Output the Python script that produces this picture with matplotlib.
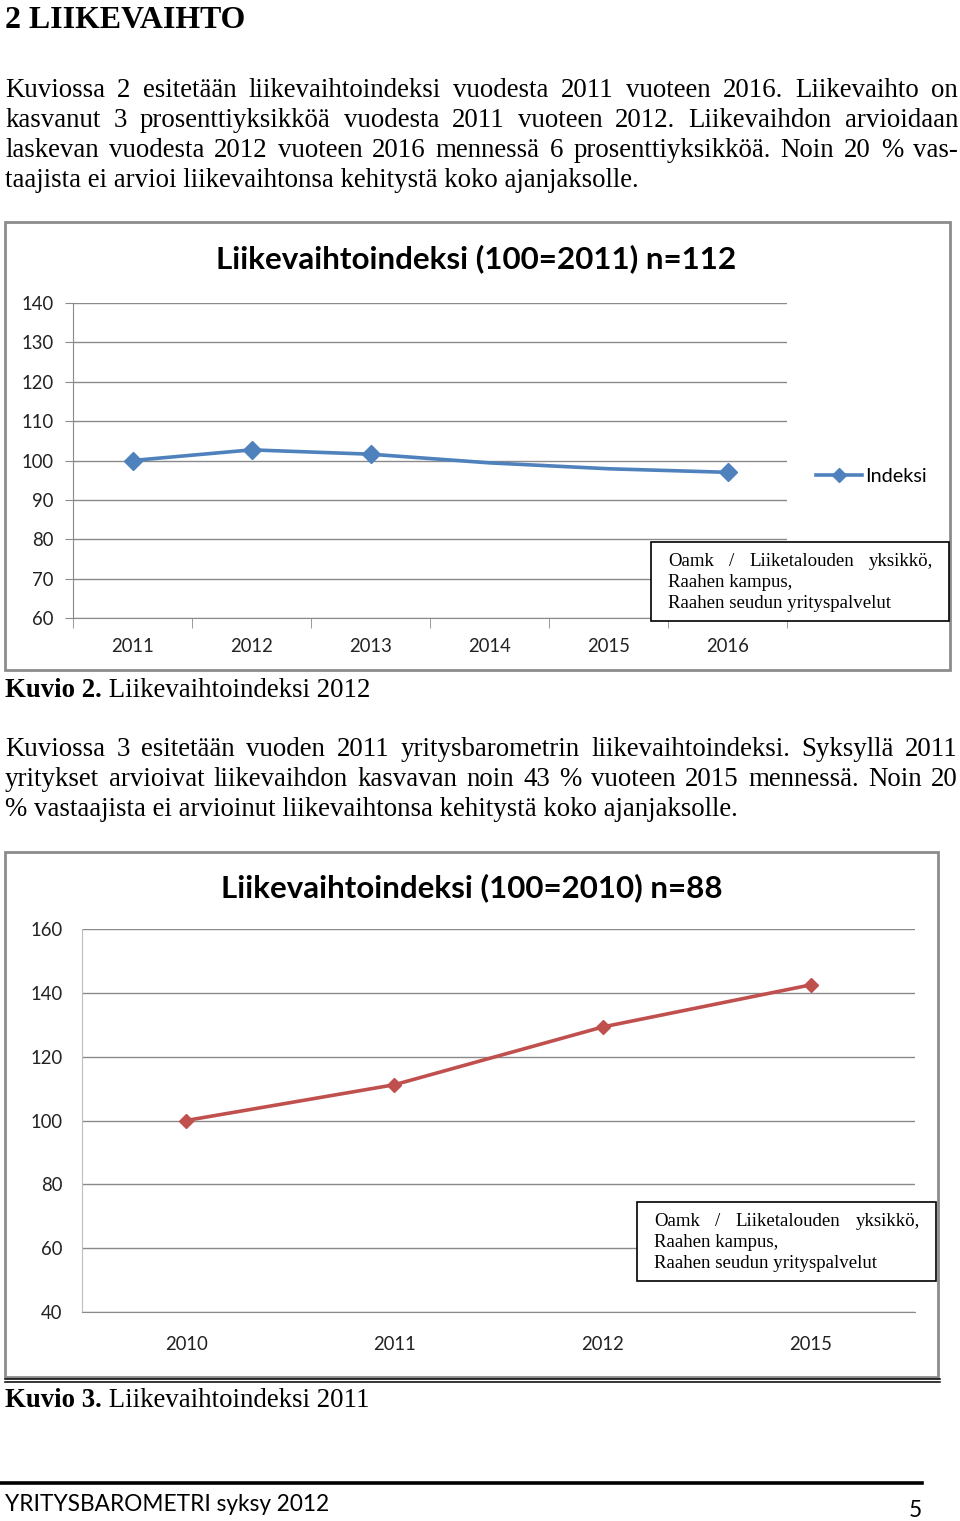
import matplotlib
matplotlib.use("Agg")
import matplotlib.pyplot as plt
from matplotlib.lines import Line2D
from matplotlib.patches import Rectangle

# page size in pixels
W, H = 960, 1521

# chart 1 data
years1 = ['2011', '2012', '2013', '2014', '2015', '2016']
index1 = [100, 102.7, 101.6, 99.4, 97.9, 97.0]
marked1 = [0, 1, 2, 5]
yticks1 = [60, 70, 80, 90, 100, 110, 120, 130, 140]

# chart 2 data
years2 = ['2010', '2011', '2012', '2015']
index2 = [100, 111.2, 129.3, 142.5]
yticks2 = [40, 60, 80, 100, 120, 140, 160]

title1 = 'Liikevaihtoindeksi (100=2011) n=112'
title2 = 'Liikevaihtoindeksi (100=2010) n=88'
legend1 = 'Indeksi'
source_lines = ['Oamk / Liiketalouden yksikkö,', 'Raahen kampus,',
                'Raahen seudun yrityspalvelut']

heading = '2 LIIKEVAIHTO'
para1 = ['Kuviossa 2 esitetään liikevaihtoindeksi vuodesta 2011 vuoteen 2016. Liikevaihto on',
         'kasvanut 3 prosenttiyksikköä vuodesta 2011 vuoteen 2012. Liikevaihdon arvioidaan',
         'laskevan vuodesta 2012 vuoteen 2016 mennessä 6 prosenttiyksikköä. Noin 20 % vas-',
         'taajista ei arvioi liikevaihtonsa kehitystä koko ajanjaksolle.']
para2 = ['Kuviossa 3 esitetään vuoden 2011 yritysbarometrin liikevaihtoindeksi. Syksyllä 2011',
         'yritykset arvioivat liikevaihdon kasvavan noin 43 % vuoteen 2015 mennessä. Noin 20',
         '% vastaajista ei arvioinut liikevaihtonsa kehitystä koko ajanjaksolle.']
caption1 = ('Kuvio 2.', ' Liikevaihtoindeksi 2012')
caption2 = ('Kuvio 3.', ' Liikevaihtoindeksi 2011')
footer = 'YRITYSBAROMETRI syksy 2012'
page_no = '5'

SERIF = 'Liberation Serif'
SANS = 'Lato'

fig = plt.figure(figsize=(W / 100, H / 100), dpi=100)
fig.patch.set_facecolor('white')
r = fig.canvas.get_renderer()


def fx(x):
    return x / W


def fy(y):
    return 1 - y / H


def width_of(s, size, family, weight='normal'):
    t = fig.text(0, 0, s, fontsize=size, family=family, weight=weight)
    w = t.get_window_extent(renderer=r).width
    t.remove()
    return w


def fit(s, target, family, weight='normal'):
    # font size giving the text the measured pixel width
    return 20 * target / width_of(s, 20, family, weight)


def put(x, yb, s, size, family, weight='normal', ha='left', color='black'):
    return fig.text(fx(x), fy(yb), s, fontsize=size, family=family,
                    weight=weight, ha=ha, va='baseline', color=color)


def justify(line, x0, x1, yb, size, family, z=3):
    words = line.split()
    texts = [put(0, yb, w, size, family) for w in words]
    widths = [t.get_window_extent(renderer=r).width for t in texts]
    gap = (x1 - x0 - sum(widths)) / (len(words) - 1)
    x = x0
    for t, w in zip(texts, widths):
        t.set_position((fx(x), fy(yb)))
        t.set_zorder(z)
        x += w + gap


# ---- body text ----
put(5, 28, heading, fit(heading, 240, SERIF, 'bold'), SERIF, 'bold')

body = fit(para1[-1], 635, SERIF)
for i, line in enumerate(para1):
    yb = 97 + 30 * i
    if i < len(para1) - 1:
        justify(line, 5, 958, yb, body, SERIF)
    else:
        put(5, yb, line, body, SERIF)

for i, line in enumerate(para2):
    yb = 756 + 30 * i
    if i < len(para2) - 1:
        justify(line, 5, 958, yb, body, SERIF)
    else:
        put(5, yb, line, body, SERIF)

for cap, yb in [(caption1, 697), (caption2, 1407)]:
    t = put(5, yb, cap[0], body, SERIF, 'bold')
    w = t.get_window_extent(renderer=r).width
    put(5 + w, yb, cap[1], body, SERIF)

# footer
fig.add_artist(Line2D([fx(0), fx(922)], [fy(1483), fy(1483)],
                      transform=fig.transFigure, color='black', lw=2.6))
foot_size = fit(footer, 323, SANS)
put(5, 1511, footer, foot_size, SANS)
put(922, 1517, page_no, foot_size, SANS, ha='right')

# ---- frames ----
fig.add_artist(Rectangle((fx(5), fy(670)), fx(950) - fx(5), fy(222) - fy(670),
                         transform=fig.transFigure, fill=False, ec='#8c8c8c', lw=2))
fig.add_artist(Rectangle((fx(5), fy(1377)), fx(938) - fx(5), fy(852) - fy(1377),
                         transform=fig.transFigure, fill=False, ec='#8c8c8c', lw=2))
for yy in (1379, 1382):
    fig.add_artist(Line2D([fx(5), fx(940)], [fy(yy), fy(yy)],
                          transform=fig.transFigure, color='black', lw=1.1))

tick_size = fit('2011', 43, SANS)
grid_c = '#8a8a8a'


def setup_axes(ax, years, ylim, yticks, ytick_len, ypad, xpad):
    ax.set_xlim(-0.5, len(years) - 0.5)
    ax.set_ylim(*ylim)
    ax.set_yticks(yticks)
    ax.yaxis.grid(True, color=grid_c, lw=1)
    ax.set_axisbelow(True)
    for s in ('top', 'right'):
        ax.spines[s].set_visible(False)
    ax.spines['left'].set_color(grid_c)
    ax.spines['bottom'].set_color(grid_c)
    ax.set_xticks(range(len(years)))
    ax.set_xticklabels(years)
    ax.tick_params(axis='x', length=0, pad=xpad, labelsize=tick_size, colors='#222222')
    ax.tick_params(axis='y', length=ytick_len, pad=ypad,
                   labelsize=tick_size, colors='#222222')
    ax.tick_params(axis='y', color=grid_c)
    for lab in ax.get_xticklabels() + ax.get_yticklabels():
        lab.set_family(SANS)
    ax.patch.set_alpha(0)


# ---- chart 1 ----
ax1 = fig.add_axes([fx(73), fy(618), fx(787) - fx(73), fy(303) - fy(618)])
setup_axes(ax1, years1, (60, 140), yticks1, 6, 8, 14.5)
ax1.set_xticks([i - 0.5 for i in range(len(years1) + 1)], minor=True)
ax1.tick_params(axis='x', which='minor', length=7, color=grid_c)
blue = '#4F81BD'
ax1.plot(range(len(years1)), index1, color=blue, lw=2.6, marker='D', ms=9,
         markevery=marked1, label=legend1, clip_on=False)
put(476, 268, title1, fit(title1, 521, SANS, 'bold'), SANS, 'bold', ha='center')
leg = ax1.legend(loc='center left', bbox_to_anchor=(fx(816), fy(476)),
                 bbox_transform=fig.transFigure, frameon=False,
                 prop={'family': SANS, 'size': fit(legend1, 62, SANS)},
                 handlelength=2.3, handletextpad=0.15, borderaxespad=0, borderpad=0)
leg.legend_handles[0].set_markersize(7)

# ---- chart 2 ----
ax2 = fig.add_axes([fx(82), fy(1312), fx(915) - fx(82), fy(929) - fy(1312)])
setup_axes(ax2, years2, (40, 160), yticks2, 0, 14, 17)
ax2.spines['left'].set_color('#bdbdbd')
red = '#C0504D'
ax2.plot(range(len(years2)), index2, color=red, lw=2.6, marker='D', ms=7.5,
         clip_on=False)
put(472, 897, title2, fit(title2, 501, SANS, 'bold'), SANS, 'bold', ha='center')

# ---- source boxes ----
src_size = fit(source_lines[2], 224, SERIF)
for (bx0, by0, bx1, by1) in [(651, 542, 949, 621), (637, 1202, 936, 1281)]:
    fig.add_artist(Rectangle((fx(bx0), fy(by1)), fx(bx1) - fx(bx0), fy(by0) - fy(by1),
                             transform=fig.transFigure, fc='white', ec='black',
                             lw=1.2, zorder=5))
    x0 = bx0 + 17
    for i, line in enumerate(source_lines):
        yb = by0 + 24 + 21 * i
        if i == 0:
            justify(line, x0, bx1 - 16, yb, src_size, SERIF, z=6)
        else:
            put(x0, yb, line, src_size, SERIF).set_zorder(6)

fig.savefig('out.png', dpi=100)
